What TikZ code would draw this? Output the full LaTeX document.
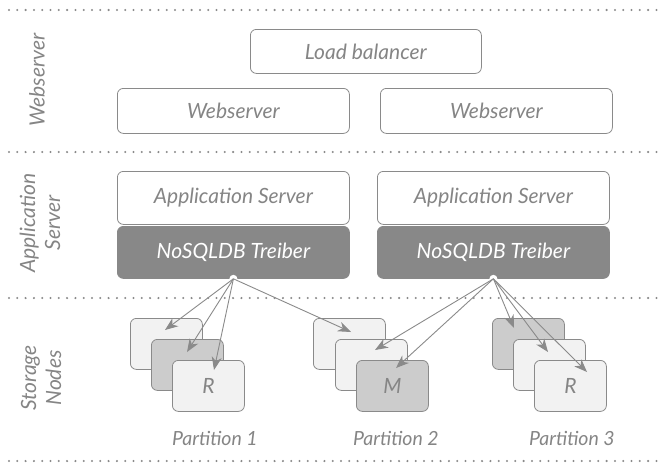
\documentclass[tikz,border=0pt]{standalone}
\usepackage{fontspec}
\setmainfont{Lato}
\usetikzlibrary{arrows.meta}
\definecolor{linegray}{HTML}{8A8A8A}
\definecolor{textgray}{HTML}{858585}
\definecolor{lightfill}{HTML}{F2F2F2}
\definecolor{midfill}{HTML}{CCCCCC}
\definecolor{darkfill}{HTML}{888888}
\newcommand{\boxfont}{\itshape\fontsize{21}{24}\selectfont}
\newcommand{\layerfont}{\itshape\fontsize{21}{25}\selectfont}
\newcommand{\plabelfont}{\itshape\fontsize{19.5}{22}\selectfont}
\begin{document}
\begin{tikzpicture}[x=1pt,y=-1pt,
  every node/.style={text=textgray},
  srv/.style={draw=linegray, line width=0.8pt, rounded corners=6pt, anchor=north west,
    inner sep=0pt, minimum width=232pt, font=\boxfont, fill=white},
  drv/.style={srv, fill=darkfill, draw=darkfill, text=white},
  part/.style={draw=linegray, line width=0.8pt, rounded corners=6pt, anchor=north west,
    inner sep=0pt, minimum width=72pt, minimum height=51pt, fill=lightfill, font=\boxfont},
  partdark/.style={part, fill=midfill},
  dotline/.style={draw=linegray, line width=2.3pt, line cap=round, dash pattern=on 0pt off 8.3pt},
  layer/.style={rotate=90, align=center, font=\layerfont},
  plabel/.style={anchor=base, font=\plabelfont},
  conn/.style={draw=linegray, line width=0.9pt, -{Stealth[length=13pt,width=10pt,inset=4pt]}},
  hub/.style={circle, fill=white, inner sep=0pt, minimum size=8pt}
]
\useasboundingbox (0,0) rectangle (661,463);

% separators
\draw[dotline] (9,10) -- (658,10);
\draw[dotline] (9,152) -- (658,152);
\draw[dotline] (9,298) -- (658,298);
\draw[dotline] (9,461) -- (658,461);

% layer labels
\node[layer] (lw) at (37,80) {Webserver};
\node[layer] (la) at (40,223) {Application\\Server};
\node[layer] (ls) at (41,378) {Storage\\Nodes};

% web tier
\node[srv, minimum width=231pt, minimum height=44pt] (lb) at (250,29) {Load balancer};
\node[srv, minimum height=45pt] (ws1) at (117,88) {Webserver};
\node[srv, minimum height=45pt] (ws2) at (380,88) {Webserver};

% application tier
\node[srv, minimum height=53pt] (as1) at (117,171) {Application Server};
\node[srv, minimum height=53pt] (as2) at (377,171) {Application Server};
\node[drv, minimum height=52pt] (dr1) at (117,226) {NoSQLDB Treiber};
\node[drv, minimum height=52pt] (dr2) at (377,226) {NoSQLDB Treiber};

% partitions
\node[part] (p1a) at (130,318) {};
\node[partdark] (p1b) at (151,339) {};
\node[part] (p1c) at (172,360) {R};
\node[part] (p2a) at (313,318) {};
\node[part] (p2b) at (335,339) {};
\node[partdark] (p2c) at (356,360) {M};
\node[partdark] (p3a) at (492,318) {};
\node[part] (p3b) at (513,339) {};
\node[part] (p3c) at (534,360) {R};

\node[plabel] (pl1) at (215,445) {Partition 1};
\node[plabel] (pl2) at (396,445) {Partition 2};
\node[plabel] (pl3) at (572,445) {Partition 3};

% arrow targets
\coordinate (t1a) at ([shift={(35,12)}]p1a.north west);
\coordinate (t1b) at ([shift={(36,13)}]p1b.north west);
\coordinate (t1c) at ([shift={(42,10)}]p1c.north west);
\coordinate (t2a) at ([shift={(38,14)}]p2a.north west);
\coordinate (t2b) at ([shift={(40,11)}]p2b.north west);
\coordinate (t2c) at ([shift={(40,8)}]p2c.north west);
\coordinate (t3a) at ([shift={(22,10)}]p3a.north west);
\coordinate (t3b) at ([shift={(35,13)}]p3b.north west);
\coordinate (t3c) at ([shift={(53,12)}]p3c.north west);

% hubs
\node[hub] (h1) at (dr1.south) {};
\node[hub] (h2) at (dr2.south) {};

\foreach \t in {t1a,t1b,t1c,t2a}{\draw[conn] (h1.center) -- (\t);}
\foreach \t in {t2b,t2c,t3a,t3b,t3c}{\draw[conn] (h2.center) -- (\t);}
\end{tikzpicture}
\end{document}
